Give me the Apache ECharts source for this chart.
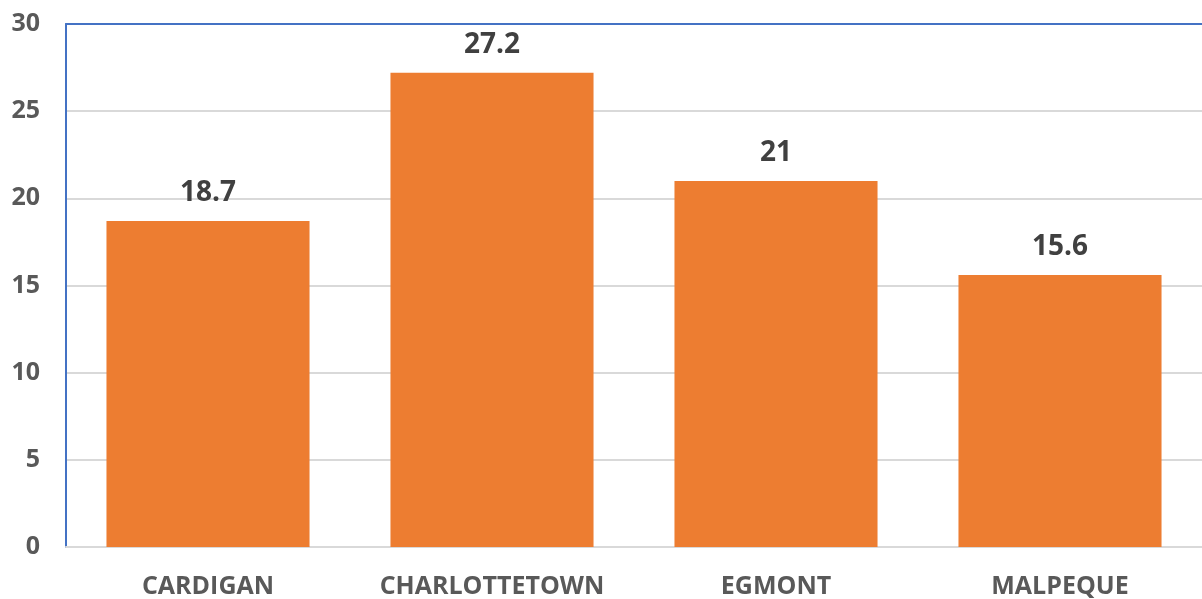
<!DOCTYPE html>
<html>
<head>
<meta charset="utf-8">
<script src="https://cdn.jsdelivr.net/npm/echarts@6/dist/echarts.min.js"></script>
<style>
  html, body { margin: 0; padding: 0; background: #fff; }
  #chart { width: 1202px; height: 599px; }
</style>
</head>
<body>
<div id="chart"></div>
<script>
var categories = ['CARDIGAN', 'CHARLOTTETOWN', 'EGMONT', 'MALPEQUE'];
var values = [18.7, 27.2, 21, 15.6];

var chartDom = document.getElementById('chart');
var myChart = echarts.init(chartDom);
var option;

option = {
    animation: false,
    grid: { left: 66, right: 0, top: 24, bottom: 51 },
    xAxis: [
        {
            type: 'category',
            data: categories,
            axisLine: { lineStyle: { color: '#D9D9D9', width: 2 } },
            axisTick: { show: false },
            axisLabel: {
                interval: 0,
                color: '#595959',
                fontFamily: 'Open Sans',
                fontWeight: 'bold',
                fontSize: 25,
                margin: 27
            }
        },
        {
            // blue top border of the plot area
            type: 'category',
            position: 'top',
            data: categories,
            axisLine: { lineStyle: { color: '#4472C4', width: 2 } },
            axisTick: { show: false },
            axisLabel: { show: false }
        }
    ],
    yAxis: {
        type: 'value',
        min: 0,
        max: 30,
        interval: 5,
        axisLine: { show: true, lineStyle: { color: '#4472C4', width: 2 } },
        axisTick: { show: false },
        splitLine: { lineStyle: { color: '#D9D9D9', width: 2 } },
        axisLabel: {
            color: '#595959',
            fontFamily: 'Open Sans',
            fontWeight: 'bold',
            fontSize: 25,
            margin: 26
        }
    },
    series: [
        {
            type: 'bar',
            data: values,
            barCategoryGap: '28.5%',
            itemStyle: { color: '#ED7D31' },
            label: {
                show: true,
                position: 'top',
                distance: 14,
                color: '#404040',
                fontFamily: 'Open Sans',
                fontWeight: 'bold',
                fontSize: 28
            }
        }
    ]
};

option && myChart.setOption(option);
</script>
</body>
</html>
